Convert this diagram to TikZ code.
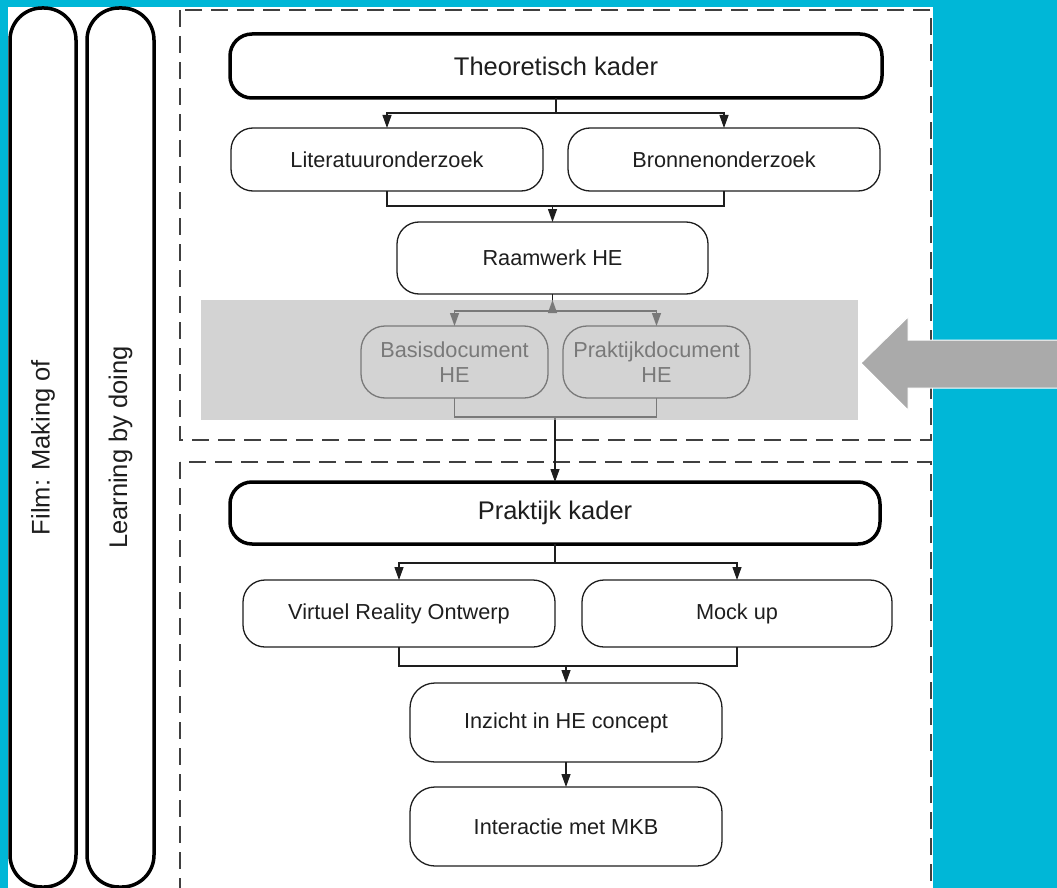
\documentclass[tikz,border=0pt]{standalone}
\usepackage{fontspec}
\setmainfont{Liberation Sans}
\usetikzlibrary{arrows.meta,calc}
\definecolor{bgcyan}{RGB}{0,183,215}
\definecolor{dashgray}{RGB}{64,64,64}
\definecolor{txt}{RGB}{30,30,30}
\definecolor{shadegray}{RGB}{182,182,182}
\definecolor{arrowgray}{RGB}{170,170,170}
\begin{document}
\begin{tikzpicture}[x=1pt,y=-1pt,
 box/.style={draw=txt, line width=1.3pt, rounded corners=22pt, inner sep=0pt, outer sep=0pt, align=center, text=txt, font=\fontsize{21.7}{25}\selectfont},
 titlebox/.style={box, draw=black, line width=3.5pt, font=\fontsize{25.5}{29}\selectfont},
 pill/.style={draw=black, line width=3.5pt, rounded corners=32pt, inner sep=0pt, outer sep=0pt, font=\fontsize{25.5}{29}\selectfont, text=txt},
 conn/.style={draw=txt, line width=1.3pt},
 arr/.style={conn, -{Triangle[width=9pt,length=13pt]}},
 dashedbox/.style={draw=dashgray, line width=2.7pt, dash pattern=on 17pt off 9pt}
]
\clip (0,0) rectangle (1057,888);
\fill[bgcyan] (0,0) rectangle (1057,888);
\fill[white] (8,7) rectangle (933,900);

% side pills
\node[pill, rotate=90, minimum width=879pt, minimum height=66pt] (film) at (43,447.5) {Film: Making of};
\node[pill, rotate=90, minimum width=879pt, minimum height=67pt] (learn) at (120.5,447.5) {Learning by doing};

% dashed frames
\draw[dashedbox] (180,10) rectangle (931,440);
\draw[dashedbox] (180,462) rectangle (931,920);

% nodes top
\node[titlebox, minimum width=652pt, minimum height=64pt] (theo) at (556,66) {Theoretisch kader};
\node[box, minimum width=312pt, minimum height=63pt] (lit) at (387,159.5) {Literatuuronderzoek};
\node[box, minimum width=312pt, minimum height=63pt] (bron) at (724,159.5) {Bronnenonderzoek};
\node[box, minimum width=311pt, minimum height=72pt] (raam) at (552.5,258) {Raamwerk HE};
\node[box, minimum width=187pt, minimum height=72pt, rounded corners=24pt] (basis) at (454.5,362) {Basisdocument\\HE};
\node[box, minimum width=187pt, minimum height=72pt, rounded corners=24pt] (prak) at (656.5,362) {Praktijkdocument\\HE};

% nodes bottom
\node[titlebox, minimum width=650pt, minimum height=62pt] (pk) at (555,513) {Praktijk kader};
\node[box, minimum width=312pt, minimum height=67pt] (vr) at (399,613.5) {Virtuel Reality Ontwerp};
\node[box, minimum width=310pt, minimum height=67pt] (mock) at (737,613.5) {Mock up};
\node[box, minimum width=312pt, minimum height=79pt, rounded corners=25pt] (inz) at (566,722.5) {Inzicht in HE concept};
\node[box, minimum width=312pt, minimum height=79pt, rounded corners=25pt] (inter) at (566,826.5) {Interactie met MKB};

% connectors
\draw[conn] (theo.south) -- ++(0,15) coordinate (t1);
\draw[arr] (t1) -| (lit.north);
\draw[arr] (t1) -| (bron.north);

\draw[conn] (lit.south) -- ++(0,15) coordinate (m1) -| (bron.south);
\draw[arr] (m1 -| raam.north) -- (raam.north);

\draw[conn] (raam.south) -- ++(0,17) coordinate (r1);
\draw[arr] (r1) -- ++(0,-11);
\draw[arr] (r1) -| (basis.north);
\draw[arr] (r1) -| (prak.north);

\draw[conn] (basis.south) -- ++(0,19) coordinate (b1) -| (prak.south);
\draw[arr] (b1 -| pk.north) -- (pk.north);

\draw[conn] (pk.south) -- ++(0,19) coordinate (p1);
\draw[arr] (p1) -| (vr.north);
\draw[arr] (p1) -| (mock.north);

\draw[conn] (vr.south) -- ++(0,19) coordinate (v1) -| (mock.south);
\draw[arr] (v1 -| inz.north) -- (inz.north);

\draw[arr] (inz.south) -- (inter.north);

% gray overlay
\fill[shadegray, fill opacity=0.6] (201,300) rectangle (858,420);

% big gray arrow
\filldraw[fill=arrowgray, draw=white, line width=1pt] (861,363) -- (908,317) -- (908,340) -- (1065,340) -- (1065,388) -- (908,388) -- (908,410) -- cycle;
\end{tikzpicture}
\end{document}
